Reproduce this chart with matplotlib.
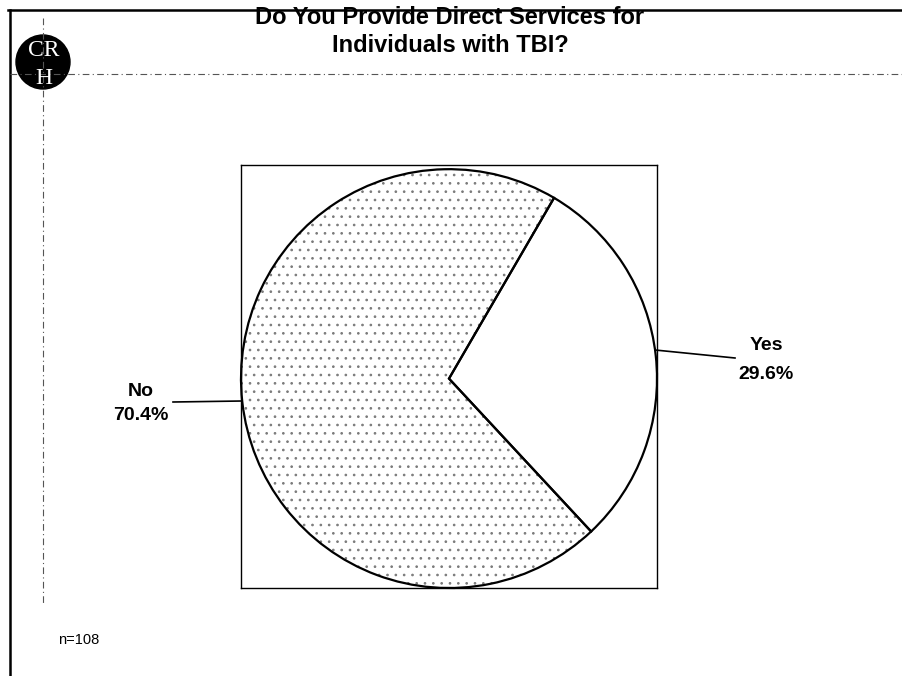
import matplotlib.pyplot as plt
from matplotlib.patches import Circle
from matplotlib.lines import Line2D

plt.rcParams['font.family'] = ['Liberation Sans', 'DejaVu Sans']

# survey answers
labels = ['Yes', 'No']
shares = [29.6, 70.4]
n_resp = 108
title_lines = ['Do You Provide Direct Services for', 'Individuals with TBI?']

W, H = 902, 676
fig = plt.figure(figsize=(W / 100, H / 100), dpi=100)
fig.patch.set_facecolor('white')


def fx(px):
    return px / W


def fy(py):
    return 1 - py / H


# page frame: top rule and left rule
fig.add_artist(Line2D([fx(8), fx(902)], [fy(10), fy(10)], color='black', lw=1.8))
fig.add_artist(Line2D([fx(10), fx(10)], [fy(10), fy(676)], color='black', lw=1.8))
# dashed guide lines through the logo
fig.add_artist(Line2D([fx(10), fx(902)], [fy(74), fy(74)], color='#555555', lw=0.8,
                      ls=(0, (6, 3, 1, 3))))
fig.add_artist(Line2D([fx(43), fx(43)], [fy(18), fy(605)], color='#555555', lw=0.8,
                      ls=(0, (6, 3, 1, 3))))

# logo (drawn in inches so it stays round)
fig.add_artist(Circle((0.43, (H - 62) / 100), 0.27, transform=fig.dpi_scale_trans,
                      facecolor='black', edgecolor='black'))
fig.text(fx(44), fy(50), 'CR', color='white', family='Liberation Serif', fontsize=17,
         ha='center', va='center')
fig.text(fx(44), fy(78), 'H', color='white', family='Liberation Serif', fontsize=17,
         ha='center', va='center')

# title
fig.text(fx(450), fy(17), title_lines[0], fontsize=17, fontweight='bold', ha='center', va='center')
fig.text(fx(450), fy(46), title_lines[1], fontsize=17, fontweight='bold', ha='center', va='center')

fig.text(fx(58), fy(640), 'n=%d' % n_resp, fontsize=10.5, ha='left', va='center')

# pie inside a square frame
left, top, right, bottom = 241, 165, 657, 588
ax = fig.add_axes([fx(left), fy(bottom), fx(right - left), (bottom - top) / H])
plt.rcParams['hatch.color'] = '#7a7a7a'
plt.rcParams['hatch.linewidth'] = 0.7
wedges, _ = ax.pie(shares, startangle=-46.9, counterclock=True, radius=1.0,
                   colors=['white', 'white'], wedgeprops=dict(linewidth=0))
wedges[1].set_hatch('..')
wedges[1].set_edgecolor('#7a7a7a')
wedges[1].set_linewidth(0)
ax.pie(shares, startangle=-46.9, counterclock=True, radius=1.0,
       colors=['none', 'none'], wedgeprops=dict(linewidth=1.6, edgecolor='black'))
ax.set_xlim(-1.0, 1.0)
ax.set_ylim(-1.0, 1.02)
ax.set_aspect('auto')
ax.set_frame_on(True)
for s in ax.spines.values():
    s.set_visible(True)
    s.set_linewidth(1.0)
ax.set_xticks([])
ax.set_yticks([])

# leader lines and labels
fig.add_artist(Line2D([fx(655), fx(735)], [fy(350), fy(358)], color='black', lw=1.2))
fig.text(fx(766), fy(346), labels[0], fontsize=14, fontweight='bold', ha='center', va='center')
fig.text(fx(766), fy(374), '%.1f%%' % shares[0], fontsize=14, fontweight='bold', ha='center', va='center')

fig.add_artist(Line2D([fx(173), fx(242)], [fy(402), fy(401)], color='black', lw=1.2))
fig.text(fx(141), fy(391), labels[1], fontsize=14, fontweight='bold', ha='center', va='center')
fig.text(fx(141), fy(416), '%.1f%%' % shares[1], fontsize=14, fontweight='bold', ha='center', va='center')

fig.savefig('out.png', dpi=100)
